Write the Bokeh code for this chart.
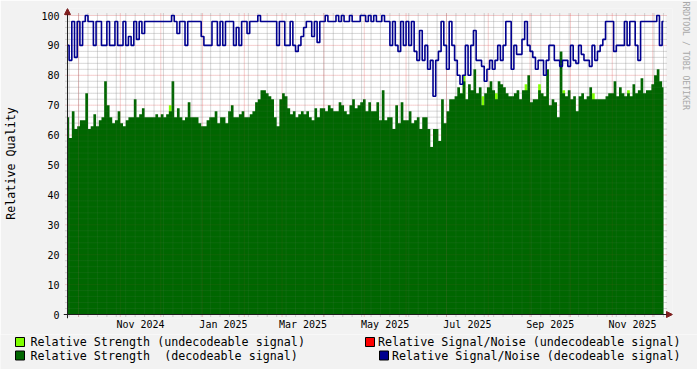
import pandas as pd
from bokeh.plotting import figure
from bokeh.layouts import column
from bokeh.models import (ColumnDataSource, Range1d, FixedTicker, Title,
                          Arrow, NormalHead)
from bokeh.core.properties import value
from bokeh.embed import file_html
from bokeh.resources import INLINE

# ---------------- data (2-day bins starting at start_date) ----------------
start_date = "2024-09-23"
bin_days = 2

strength_decodeable = [
    66, 59, 68, 62, 63, 65, 65, 74, 62, 63, 67, 63, 65, 66, 78, 70, 66, 64, 65, 68,
    64, 63, 65, 66, 66, 72, 66, 67, 69, 66, 66, 66, 66, 67, 66, 67, 66,
    67, 68, 78, 66, 69, 66, 65, 66, 71, 66, 66, 66, 64, 63, 63, 65, 66, 66, 68,
    64, 66, 66, 64, 68, 70, 66, 66, 67, 68, 66, 66, 67, 68, 71, 72, 75,
    75, 74, 73, 72, 66, 63, 72, 74, 73, 69, 67, 68, 66, 67, 68, 67, 68, 66, 65, 69,
    66, 69, 69, 68, 70, 69, 68, 68, 71, 70, 68, 67, 70, 72, 69, 70, 71,
    72, 68, 71, 68, 68, 71, 65, 75, 65, 66, 66, 62, 70, 64, 71, 65, 65, 68, 64, 65,
    66, 62, 66, 66, 62, 56, 62, 62, 58, 72, 64, 68, 72, 72, 73, 76, 74,
    78, 72, 77, 75, 82, 74, 76, 70, 74, 76, 78, 75, 72, 78, 77, 76, 74, 73, 73, 74,
    75, 72, 75, 75, 80, 71, 72, 72, 75, 74, 73, 82, 70, 72, 71, 66, 88,
    74, 73, 75, 72, 73, 68, 73, 74, 72, 73, 76, 72, 72, 72, 72, 72, 73, 74, 74, 78,
    73, 76, 74, 73, 74, 73, 77, 74, 75, 79, 74, 75, 75, 77, 80, 82, 78, 76,
]

snr_decodeable = [
    90, 85, 98, 86, 98, 90, 98, 100, 98, 98, 90, 98, 98, 90, 90, 98, 90, 90, 98, 90,
    90, 98, 90, 93, 90, 98, 92, 98, 94, 98, 98, 98, 98, 98, 98, 98, 98,
    98, 98, 100, 98, 94, 98, 98, 90, 98, 98, 98, 98, 98, 93, 90, 90, 90, 98, 98,
    90, 98, 90, 98, 98, 98, 90, 96, 90, 98, 98, 94, 98, 98, 98, 100, 98,
    98, 98, 98, 98, 98, 90, 98, 98, 90, 90, 98, 90, 88, 90, 93, 96, 98, 98, 93, 98,
    91, 98, 98, 100, 98, 98, 98, 100, 98, 100, 98, 98, 100, 98, 98, 98, 100,
    100, 98, 100, 98, 100, 98, 98, 100, 98, 98, 90, 98, 90, 88, 98, 90, 98, 90, 98, 88,
    85, 95, 85, 90, 82, 85, 73, 85, 88, 98, 90, 82, 98, 90, 85, 80, 77,
    80, 90, 80, 90, 95, 85, 85, 83, 78, 82, 85, 82, 85, 90, 85, 90, 98, 98, 82, 90,
    87, 87, 92, 98, 90, 88, 86, 82, 85, 85, 80, 85, 90, 90, 85, 85, 83,
    85, 85, 83, 90, 85, 84, 90, 87, 85, 85, 83, 90, 85, 88, 90, 92, 98, 98, 98, 88,
    90, 90, 90, 98, 90, 98, 98, 90, 85, 98, 98, 98, 98, 98, 98, 100, 90, 98,
]

undec_dates = ["2024-12-08", "2025-07-14", "2025-07-28", "2025-08-07", "2025-08-29",
               "2025-09-08", "2025-09-26", "2025-10-18", "2025-11-13"]
undec_values = [70, 80, 73, 74, 77, 77, 75, 74, 75]

month_label_text = ["Nov 2024", "Jan 2025", "Mar 2025", "May 2025", "Jul 2025",
                    "Sep 2025", "Nov 2025"]
month_label_start = ["2024-11-01", "2025-01-01", "2025-03-01", "2025-05-01",
                     "2025-07-01", "2025-09-01", "2025-11-01"]

legend_labels_left = ["Relative Strength (undecodeable signal)",
                      "Relative Strength \u00a0(decodeable signal)"]
legend_labels_right = ["Relative Signal/Noise (undecodeable signal)",
                       "Relative Signal/Noise (decodeable signal)"]

x_start = "2024-09-22 19:00"
x_end = "2025-12-10 12:00"

# ---------------- colours ----------------
C_LIGHT = "#80ff00"
C_GREEN = "#006600"
C_RED = "#ff0000"
C_BLUE = "#00008f"
C_BACK = "#f2f2f2"
C_GRID = "#8f8f8f"
C_MGRID = "#de4f4f"
C_AXIS = "#1f1f1f"
C_ARROW = "#801f1f"
FONT = "DejaVu Sans Mono"


def ms(d):
    return pd.Timestamp(d).value / 1e6


X0, X1 = ms(x_start), ms(x_end)
px_ms = (X1 - X0) / 599.0      # data area is 599 px wide
px_y = 100.0 / 299.0           # and 299 px high

dates = pd.date_range(start_date, periods=len(strength_decodeable), freq=f"{bin_days}D")
src = ColumnDataSource(dict(x=dates, g=strength_decodeable, b=snr_decodeable))
undec_src = ColumnDataSource(dict(x=pd.to_datetime(undec_dates), top=undec_values))

W, H1, H2 = 697, 334, 35
p = figure(width=W, height=H1, x_axis_type="datetime",
           x_range=Range1d(X0 - 4 * px_ms, X1 + 7 * px_ms),
           y_range=Range1d(-4 * px_y, 100 + 7 * px_y),
           output_backend="svg", toolbar_location=None,
           min_border_left=63, min_border_right=24, min_border_top=8, min_border_bottom=16,
           background_fill_color=C_BACK, border_fill_color=C_BACK,
           outline_line_color=None)
p.frame_align = False
p.xgrid.visible = False
p.ygrid.visible = False

# white canvas of the graph
p.quad(left=[X0], right=[X1], bottom=[0], top=[100], fill_color="white", line_color=None)

# grid (dotted, 2px overhang like rrdtool)
week_ticks = [ms(d) for d in pd.date_range("2024-09-24", x_end, freq="7D")]
month_ticks = [ms(d) for d in pd.date_range("2024-10-01", "2025-12-01", freq="MS")]
y_minor = [v for v in range(2, 101, 2) if v % 10]
y_major = list(range(10, 101, 10))


def draw_grid(a_minor, a_major):
    for ticks, col, alpha in [(week_ticks, C_GRID, a_minor), (month_ticks, C_MGRID, a_major)]:
        p.segment(x0=ticks, x1=ticks, y0=-2 * px_y, y1=100 + 2 * px_y,
                  line_color=col, line_alpha=alpha, line_dash="1 1", line_width=1)
    for ticks, col, alpha in [(y_minor, C_GRID, a_minor), (y_major, C_MGRID, a_major)]:
        p.segment(x0=X0 - 2 * px_ms, x1=X1 + 2 * px_ms, y0=ticks, y1=ticks,
                  line_color=col, line_alpha=alpha, line_dash="1 1", line_width=1)


draw_grid(0.55, 0.42)

# data glyphs
p.vbar(x="x", top="top", bottom=0, width=bin_days * 86400000, source=undec_src,
       fill_color=C_LIGHT, line_color=None)
p.varea_step(x="x", y1=0, y2="g", step_mode="center", source=src, fill_color=C_GREEN)

draw_grid(0.18, 0.15)   # faint grid texture over the areas

p.step(x="x", y="b", mode="center", source=src, line_color=C_BLUE, line_width=1.6)

# axis lines with rrdtool style arrow heads
p.add_layout(Arrow(x_start=X0 - 4 * px_ms, y_start=0, x_end=X1 + 7 * px_ms, y_end=0,
                   line_color=C_AXIS, line_width=1,
                   end=NormalHead(size=6, fill_color=C_ARROW, line_color=C_ARROW, line_width=1)))
p.add_layout(Arrow(x_start=X0, y_start=-4 * px_y, x_end=X0, y_end=100 + 7 * px_y,
                   line_color=C_AXIS, line_width=1,
                   end=NormalHead(size=6, fill_color=C_ARROW, line_color=C_ARROW, line_width=1)))

# x axis: labels centred in their month
label_pos = []
for s in month_label_start:
    a = pd.Timestamp(s)
    b = a + pd.offsets.MonthBegin(1)
    label_pos.append(ms(a) + (ms(b) - ms(a)) / 2)
p.xaxis.ticker = FixedTicker(ticks=label_pos, minor_ticks=[])
p.xaxis.major_label_overrides = {t: l for t, l in zip(label_pos, month_label_text)}
p.xaxis.axis_line_color = None
p.xaxis.major_tick_out = 0
p.xaxis.major_tick_in = 0
p.xaxis.minor_tick_out = 0
p.xaxis.minor_tick_in = 0
p.xaxis.major_label_standoff = 0
p.xaxis.major_label_text_font = FONT
p.xaxis.major_label_text_font_size = "10px"
p.xaxis.major_label_text_color = "black"

# y axis
p.yaxis.ticker = FixedTicker(ticks=list(range(0, 101, 10)), minor_ticks=[])
p.yaxis.axis_line_color = None
p.yaxis.major_tick_out = 0
p.yaxis.major_tick_in = 0
p.yaxis.minor_tick_out = 0
p.yaxis.minor_tick_in = 0
p.yaxis.major_label_standoff = 4
p.yaxis.major_label_text_font = FONT
p.yaxis.major_label_text_font_size = "10px"
p.yaxis.major_label_text_color = "black"
p.yaxis.axis_label = "Relative Quality"
p.yaxis.axis_label_text_font = FONT
p.yaxis.axis_label_text_font_size = "11.7px"
p.yaxis.axis_label_text_font_style = "normal"
p.yaxis.axis_label_text_color = "black"
p.yaxis.axis_label_standoff = 20

# watermark on the right
p.add_layout(Title(text="RRDTOOL / TOBI OETIKER", align="left", standoff=13,
                   offset=-7, vertical_align="top",
                   text_font=FONT, text_font_size="8.2px", text_font_style="normal",
                   text_color="#a8a8a8"), "right")

# ---------------- legend figure ----------------
p2 = figure(width=W, height=H2, x_range=Range1d(0, W), y_range=Range1d(H2, 0),
            output_backend="svg", toolbar_location=None, min_border=0,
            x_axis_location=None, y_axis_location=None,
            background_fill_color=C_BACK, border_fill_color=C_BACK,
            outline_line_color=None)
p2.frame_align = False
p2.xgrid.visible = False
p2.ygrid.visible = False
row_y = [7.5, 21]
p2.quad(left=[15, 15, 365, 379], right=[24, 24, 374, 388],
        top=[row_y[0] - 4.5, row_y[1] - 4.5, row_y[0] - 4.5, row_y[1] - 4.5],
        bottom=[row_y[0] + 4.5, row_y[1] + 4.5, row_y[0] + 4.5, row_y[1] + 4.5],
        fill_color=[C_LIGHT, C_GREEN, C_RED, C_BLUE], line_color="black", line_width=1)
p2.text(x=[30, 30], y=row_y, text=legend_labels_left, text_font=value(FONT),
        text_font_size=value("11.7px"), text_align="left", text_baseline="middle",
        text_color="black")
p2.text(x=[680, 680], y=row_y, text=legend_labels_right, text_font=value(FONT),
        text_font_size=value("11.7px"), text_align="right", text_baseline="middle",
        text_color="black")

layout = column(p, p2)
open("out.html", "w").write(file_html(layout, INLINE))
